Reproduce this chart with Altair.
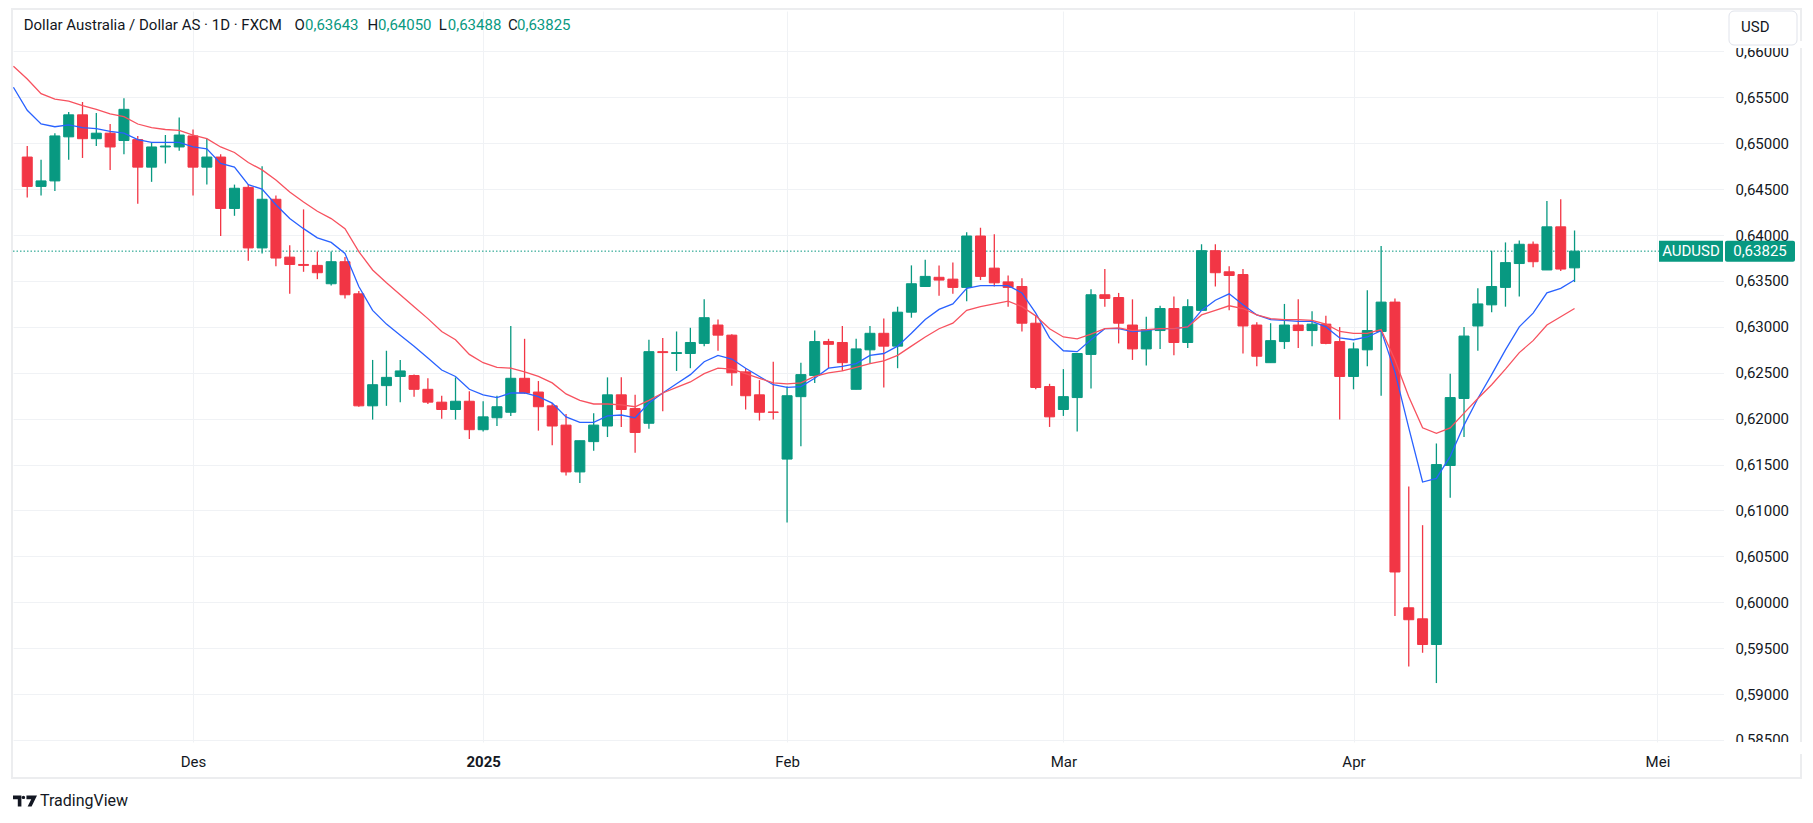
import altair as alt
import pandas as pd

GREEN = "#089981"
RED = "#F23645"
BLUE = "#2962FF"
MA_RED = "#F7525F"
TEXT = "#131722"
GRID = "#F0F2F5"
FONT = "Roboto"

# ---- daily candles (index 0 = 14 Nov 2024 ... 112 = 23 Apr 2025) ----
opens = [0.6485, 0.6453, 0.6459, 0.6507, 0.6531, 0.6505, 0.6511, 0.6503, 0.6504, 0.6474,
         0.6496, 0.6496, 0.6508, 0.6474, 0.6485, 0.6429, 0.6452, 0.6386, 0.6439, 0.6376,
         0.6368, 0.6367, 0.6347, 0.6371, 0.6336, 0.6214, 0.6236, 0.6246, 0.6247, 0.6232,
         0.6218, 0.6210, 0.6219, 0.6188, 0.6201, 0.6207, 0.6244, 0.6229, 0.6214, 0.6193,
         0.6142, 0.6175, 0.6192, 0.6226, 0.6211, 0.6195, 0.6273, 0.6271, 0.6271, 0.6282,
         0.6302, 0.6291, 0.6251, 0.6226, 0.62073, 0.6156, 0.6224, 0.6247, 0.6284, 0.6283,
         0.6232, 0.6275, 0.6293, 0.6279, 0.6316, 0.6344, 0.6354, 0.6352, 0.6343, 0.6399,
         0.6364, 0.6349, 0.6344, 0.6304, 0.6235, 0.6210, 0.6223, 0.6270, 0.6335, 0.6332,
         0.6302, 0.6276, 0.6296, 0.6320, 0.6283, 0.6318, 0.6383, 0.6360, 0.6357, 0.6302,
         0.6261, 0.6284, 0.6302, 0.6296, 0.6303, 0.6284, 0.6246, 0.6275, 0.6295, 0.6327,
         0.5994, 0.5982, 0.5954, 0.6149, 0.6222, 0.6301, 0.6324, 0.6343, 0.6369, 0.6390,
         0.6362, 0.6409, 0.63643]
highs = [0.6497, 0.6482, 0.6511, 0.6534, 0.6545, 0.6533, 0.6521, 0.6549, 0.6508, 0.6501,
         0.6509, 0.6528, 0.6515, 0.6505, 0.6488, 0.6455, 0.6455, 0.6475, 0.6443, 0.6389,
         0.6428, 0.6382, 0.6382, 0.6376, 0.6339, 0.6264, 0.6274, 0.6264, 0.6248, 0.6244,
         0.6225, 0.6245, 0.6230, 0.6219, 0.6225, 0.6301, 0.6287, 0.6241, 0.6217, 0.6205,
         0.6176, 0.6206, 0.6245, 0.6245, 0.6226, 0.6286, 0.6288, 0.6295, 0.6299, 0.6330,
         0.6308, 0.6292, 0.6255, 0.6242, 0.6262, 0.6235, 0.6261, 0.6296, 0.6287, 0.6301,
         0.6287, 0.6301, 0.6309, 0.6322, 0.6367, 0.6373, 0.6367, 0.6370, 0.6403, 0.6408,
         0.6401, 0.6356, 0.6353, 0.6313, 0.6238, 0.6254, 0.6271, 0.6341, 0.6363, 0.6337,
         0.6330, 0.6311, 0.6323, 0.6333, 0.6330, 0.6390, 0.6390, 0.6366, 0.6363, 0.6305,
         0.6304, 0.6325, 0.6330, 0.6317, 0.6312, 0.6300, 0.6283, 0.6340, 0.6388, 0.6331,
         0.6126, 0.6084, 0.6173, 0.6249, 0.6300, 0.6342, 0.6383, 0.6392, 0.6394, 0.6393,
         0.6437, 0.6439, 0.64050]
lows = [0.6441, 0.6443, 0.6448, 0.6482, 0.6484, 0.6497, 0.6471, 0.6488, 0.6434, 0.6458,
        0.6478, 0.6492, 0.6443, 0.6455, 0.6399, 0.6421, 0.6372, 0.6380, 0.6366, 0.6336,
        0.6360, 0.6352, 0.6345, 0.6331, 0.6213, 0.6199, 0.6214, 0.6218, 0.6224, 0.6216,
        0.6200, 0.6199, 0.6178, 0.6186, 0.6192, 0.6203, 0.6227, 0.6187, 0.6171, 0.6138,
        0.6130, 0.6165, 0.6180, 0.6191, 0.6163, 0.6189, 0.6208, 0.6252, 0.6255, 0.6279,
        0.6274, 0.6236, 0.6210, 0.6198, 0.6199, 0.6087, 0.6170, 0.6239, 0.6255, 0.6252,
        0.6232, 0.6260, 0.6234, 0.6255, 0.6310, 0.6344, 0.6334, 0.6336, 0.6328, 0.6351,
        0.6344, 0.6322, 0.6295, 0.6232, 0.6191, 0.6203, 0.6186, 0.6233, 0.6322, 0.6282,
        0.6264, 0.6258, 0.6276, 0.6269, 0.6277, 0.6318, 0.6344, 0.6318, 0.6271, 0.6257,
        0.6261, 0.6276, 0.6277, 0.6279, 0.6281, 0.6199, 0.6232, 0.6257, 0.6225, 0.5985,
        0.5930, 0.5945, 0.5912, 0.6114, 0.6180, 0.6274, 0.6316, 0.6322, 0.6333, 0.6365,
        0.6362, 0.6361, 0.63488]
closes = [0.6453, 0.6459, 0.6508, 0.6531, 0.6505, 0.6511, 0.6496, 0.6537, 0.6474, 0.6496,
          0.6497, 0.6509, 0.6474, 0.6485, 0.6429, 0.6451, 0.6386, 0.6439, 0.6375, 0.6368,
          0.6367, 0.6359, 0.6371, 0.6335, 0.6214, 0.6237, 0.6245, 0.6252, 0.6232, 0.6218,
          0.6210, 0.6219, 0.6188, 0.6202, 0.6213, 0.6244, 0.6228, 0.6213, 0.6192, 0.6142,
          0.6176, 0.6193, 0.6226, 0.6210, 0.6185, 0.6273, 0.6272, 0.6272, 0.6283, 0.6310,
          0.6291, 0.6250, 0.6225, 0.6207, 0.62069, 0.6225, 0.6248, 0.6284, 0.6281, 0.6261,
          0.6276, 0.6293, 0.6279, 0.6316, 0.6347, 0.6355, 0.6351, 0.6343, 0.6399, 0.6355,
          0.6348, 0.6343, 0.6304, 0.6234, 0.6202, 0.6224, 0.6271, 0.6335, 0.6331, 0.6304,
          0.6276, 0.6297, 0.6320, 0.6283, 0.6322, 0.6383, 0.6359, 0.6356, 0.6301, 0.6268,
          0.6285, 0.6302, 0.6296, 0.6303, 0.6282, 0.6246, 0.6276, 0.6296, 0.6327, 0.6033,
          0.5981, 0.5954, 0.6150, 0.6223, 0.6290, 0.6325, 0.6344, 0.6370, 0.6390, 0.6371,
          0.6409, 0.6363, 0.63825]

# ---- moving averages (index -1 ... 112) ----
ma_first_idx = -1
ma_fast = [0.6561, 0.6536, 0.6521, 0.6518, 0.6520, 0.6517, 0.6516, 0.6513, 0.6511, 0.6504,
           0.6501, 0.6501, 0.6501, 0.6496, 0.6494, 0.6478, 0.6474, 0.6455, 0.6450, 0.6433,
           0.6418, 0.6407, 0.6397, 0.6392, 0.6380, 0.6344, 0.6318, 0.6303, 0.6291, 0.6279,
           0.6266, 0.6253, 0.6246, 0.6232, 0.6226, 0.6223, 0.6228, 0.6228, 0.6224, 0.6217,
           0.6202, 0.6196, 0.6196, 0.6203, 0.6204, 0.6201, 0.6217, 0.6228, 0.6238, 0.6248,
           0.6262, 0.6269, 0.6265, 0.6255, 0.6246, 0.6237, 0.6234, 0.6235, 0.6244, 0.6255,
           0.6257, 0.6260, 0.6269, 0.6271, 0.6279, 0.6293, 0.6308, 0.6319, 0.6325, 0.6342,
           0.6345, 0.6345, 0.6345, 0.6337, 0.6315, 0.6288, 0.6274, 0.6273, 0.6286, 0.6298,
           0.6298, 0.6295, 0.6296, 0.6298, 0.6298, 0.6300, 0.6318, 0.6329, 0.6336, 0.6324,
           0.6313, 0.6308, 0.6307, 0.6306, 0.6306, 0.6300, 0.6288, 0.6286, 0.6289, 0.6296,
           0.6251, 0.6190, 0.6131, 0.6135, 0.6159, 0.6193, 0.6222, 0.6248, 0.6275, 0.6300,
           0.6315, 0.6337, 0.6342, 0.6351]
ma_slow = [0.6584, 0.6570, 0.6554, 0.6548, 0.6546, 0.6541, 0.6537, 0.6532, 0.6529, 0.6521,
           0.6517, 0.6515, 0.6514, 0.6509, 0.6505, 0.6496, 0.6490, 0.6479, 0.6471, 0.6460,
           0.6447, 0.6436, 0.6426, 0.6418, 0.6407, 0.6382, 0.6362, 0.6348, 0.6335, 0.6322,
           0.6309, 0.6295, 0.6286, 0.6270, 0.6261, 0.6256, 0.6255, 0.6251, 0.6246, 0.6239,
           0.6227, 0.6220, 0.6216, 0.6216, 0.6215, 0.6213, 0.6220, 0.6228, 0.6234, 0.6240,
           0.6249, 0.6255, 0.6254, 0.6249, 0.6244, 0.6239, 0.6238, 0.6239, 0.6246, 0.6250,
           0.6252, 0.6256, 0.6260, 0.6263, 0.6269, 0.6279, 0.6289, 0.6298, 0.6304, 0.6318,
           0.6322, 0.6325, 0.6328, 0.6322, 0.6312, 0.6298, 0.6289, 0.6287, 0.6292, 0.6298,
           0.6299, 0.6296, 0.6297, 0.6298, 0.6298, 0.6300, 0.6313, 0.6318, 0.6323, 0.6320,
           0.6313, 0.6309, 0.6308, 0.6308, 0.6307, 0.6303, 0.6295, 0.6293, 0.6293, 0.6297,
           0.6264, 0.6224, 0.6190, 0.6184, 0.6190, 0.6206, 0.6222, 0.6237, 0.6254, 0.6272,
           0.6285, 0.6302, 0.6311, 0.6320]

month_idx = [12, 33, 55, 75, 96, 118]
month_labels = ["Des", "2025", "Feb", "Mar", "Apr", "Mei"]
bold_month = 33
price_ticks = [0.585, 0.590, 0.595, 0.600, 0.605, 0.610, 0.615, 0.620,
               0.625, 0.630, 0.635, 0.640, 0.645, 0.650, 0.655, 0.660]
last_price = [0.63825]
symbol = "AUDUSD"
header_name = "Dollar Australia / Dollar AS \u00b7 1D \u00b7 FXCM"
header_fields = ["O", "H", "L", "C"]
header_values = ["0,63643", "0,64050", "0,63488", "0,63825"]

# ---- layout ----
W, H = 1710.5, 731
x_scale = alt.Scale(domain=[-0.669, 122.42], nice=False, zero=False)
y_scale = alt.Scale(domain=[0.58478, 0.66441], nice=False, zero=False)

candles = pd.DataFrame({"idx": list(range(len(opens))), "open": opens, "high": highs,
                        "low": lows, "close": closes})
candles["dir"] = ["up" if c >= o else "down" for o, c in zip(opens, closes)]
ma_idx = list(range(ma_first_idx, ma_first_idx + len(ma_fast)))
fast_df = pd.DataFrame({"idx": ma_idx, "v": ma_fast})
slow_df = pd.DataFrame({"idx": ma_idx, "v": ma_slow})
price_df = pd.DataFrame({"p": last_price})
one = pd.DataFrame({"k": [0]})

label_expr = " : ".join(f"datum.value == {i} ? '{t}'" for i, t in zip(month_idx, month_labels)) + " : ''"

x_axis = alt.Axis(values=month_idx, labelExpr=label_expr, grid=True, gridColor=GRID, gridWidth=1,
                  domain=False, ticks=False, tickSize=0, labelPadding=12, labelFont=FONT,
                  labelFontSize=15, labelColor=TEXT, title=None, labelFlush=False,
                  labelOverlap=False,
                  labelFontWeight={"condition": {"test": f"datum.value == {bold_month}", "value": "bold"},
                                   "value": "normal"})
y_axis = alt.Axis(orient="right", values=price_ticks,
                  labelExpr="replace(format(datum.value, '.5f'), '.', ',')",
                  grid=True, gridColor=GRID, gridWidth=1, domain=False, ticks=False, tickSize=0,
                  labelPadding=11.5, labelFont=FONT, labelFontSize=15, labelColor=TEXT,
                  title=None, labelFlush=False, labelOverlap=False)

color_enc = alt.Color("dir:N", scale=alt.Scale(domain=["up", "down"], range=[GREEN, RED]), legend=None)

wicks = alt.Chart(candles).mark_rule(strokeWidth=1.3).encode(
    x=alt.X("idx:Q", scale=x_scale, axis=x_axis),
    y=alt.Y("low:Q", scale=y_scale, axis=y_axis),
    y2="high:Q",
    color=color_enc,
)
bodies = alt.Chart(candles).mark_bar(size=10, strokeWidth=1).encode(
    x=alt.X("idx:Q"),
    y=alt.Y("open:Q"),
    y2="close:Q",
    color=color_enc,
    stroke=alt.Stroke("dir:N", scale=alt.Scale(domain=["up", "down"], range=[GREEN, RED]), legend=None),
)
fast_line = alt.Chart(fast_df).mark_line(color=BLUE, strokeWidth=1.3, clip=True).encode(
    x="idx:Q", y="v:Q")
slow_line = alt.Chart(slow_df).mark_line(color=MA_RED, strokeWidth=1.3, clip=True).encode(
    x="idx:Q", y="v:Q")

price_line = alt.Chart(price_df).mark_rule(color=GREEN, strokeWidth=1, strokeDash=[1.5, 2]).encode(
    y="p:Q", x=alt.value(0), x2=alt.value(1646))
tag_box = alt.Chart(price_df).mark_rect(color=GREEN, yOffset=-10.5, y2Offset=10.5).encode(
    y="p:Q", y2="p:Q", x=alt.value(1646), x2=alt.value(1710))
tag_text = alt.Chart(price_df).mark_text(color="white", font=FONT, fontSize=15, align="center",
                                         baseline="middle").encode(
    y="p:Q", x=alt.value(1678), text=alt.value(symbol))
val_box = alt.Chart(price_df).mark_rect(color=GREEN, yOffset=-10.5, y2Offset=10.5, cornerRadius=2).encode(
    y="p:Q", y2="p:Q", x=alt.value(1712), x2=alt.value(1782))
val_text = alt.Chart(price_df).transform_calculate(
    t="replace(format(datum.p, '.5f'), '.', ',')"
).mark_text(color="white", font=FONT, fontSize=15, align="center", baseline="middle").encode(
    y="p:Q", x=alt.value(1747), text="t:N")

# cover the parts of the top/bottom price labels that the original pane clips
cover_bottom = alt.Chart(one).mark_rect(color="white").encode(
    x=alt.value(1711), x2=alt.value(1792), y=alt.value(H), y2=alt.value(H + 12))
cover_top = alt.Chart(one).mark_rect(color="white").encode(
    x=alt.value(1711), x2=alt.value(1792), y=alt.value(30), y2=alt.value(37))
frame = alt.Chart(one).mark_rect(fillOpacity=0, stroke="#ECEDEF", strokeWidth=2).encode(
    x=alt.value(-1), x2=alt.value(1788), y=alt.value(-2), y2=alt.value(767))
usd_box = alt.Chart(one).mark_rect(fill="white", stroke="#E0E3EB", strokeWidth=1, cornerRadius=5).encode(
    x=alt.value(1716), x2=alt.value(1784), y=alt.value(0), y2=alt.value(34))
usd_text = alt.Chart(one).mark_text(font=FONT, fontSize=15, color=TEXT, align="left",
                                    baseline="middle").encode(
    x=alt.value(1728), y=alt.value(16), text=alt.value("USD"))

def htext(t, x, color):
    return alt.Chart(one).mark_text(font=FONT, fontSize=15, color=color, align="left",
                                    baseline="middle").encode(
        x=alt.value(x), y=alt.value(14), text=alt.value(t))

header = [htext(header_name, 10.7, TEXT)]
field_x = [281.5, 354.6, 425.7, 495.0]
value_x = [292.0, 365.0, 434.8, 504.0]
for f, v, fx, vx in zip(header_fields, header_values, field_x, value_x):
    header.append(htext(f, fx, TEXT))
    header.append(htext(v, vx, GREEN))

logo_path = ("M-1,-0.45 L-0.3,-0.45 L-0.3,0.45 L-0.6,0.45 L-0.6,-0.15 L-1,-0.15 Z "
             "M-0.27,-0.3 A0.14,0.14 0 1,0 0.01,-0.3 A0.14,0.14 0 1,0 -0.27,-0.3 Z "
             "M0.12,-0.45 L1,-0.45 L0.55,0.45 L0.22,0.45 L0.52,-0.15 L0.12,-0.15 Z")
logo = alt.Chart(one).mark_point(shape=logo_path, filled=True, fill=TEXT, strokeWidth=0,
                                 size=576, opacity=1).encode(
    x=alt.value(12), y=alt.value(790))
logo_text = alt.Chart(one).mark_text(font=FONT, fontSize=16, color=TEXT, align="left",
                                     baseline="middle").encode(
    x=alt.value(27), y=alt.value(790), text=alt.value("TradingView"))

chart = alt.layer(
    frame, price_line, wicks, bodies, fast_line, slow_line,
    tag_box, tag_text, val_box, val_text, cover_bottom, cover_top, usd_box, usd_text,
    *header, logo, logo_text,
).properties(
    width=W, height=H,
    padding={"left": 5, "top": 3, "right": 80, "bottom": 70},
    autosize=alt.AutoSizeParams(type="none"),
).configure(background="white").configure_view(stroke=None)

chart.save("out.html", embed_options={"renderer": "svg", "actions": False})
